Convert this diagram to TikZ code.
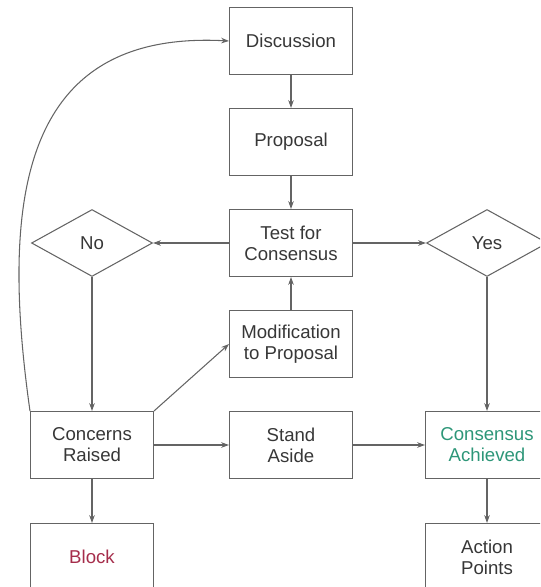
\documentclass[tikz,border=0pt]{standalone}
\usepackage{fontspec}
\setmainfont{Liberation Sans}
\usepackage{tikz}
\usetikzlibrary{shapes.geometric, arrows.meta}
\definecolor{linegray}{RGB}{100,100,100}
\definecolor{textgray}{RGB}{55,55,55}
\definecolor{blockred}{RGB}{165,45,75}
\definecolor{agreegreen}{RGB}{45,150,120}

\begin{document}
\begin{tikzpicture}[x=0.02cm, y=-0.02cm,
    box/.style={draw=linegray, line width=0.6pt, minimum width=2.46cm, minimum height=1.34cm,
        align=center, text=textgray, font=\fontsize{10.6}{12}\selectfont},
    choice/.style={diamond, draw=linegray, line width=0.6pt, minimum width=2.42cm, minimum height=1.34cm,
        inner sep=0pt, text=textgray, font=\fontsize{10.6}{12}\selectfont},
    flow/.style={-{Stealth[length=4.5pt, width=3.2pt]}, draw=linegray, line width=0.6pt}]
    \useasboundingbox (0,0) rectangle (540,587);
    \clip (0,0) rectangle (540,587);

    % Centre column
    \node[box] (disc) at (291, 41) {Discussion};
    \node[box] (prop) at (291, 142) {Proposal};
    \node[box] (test) at (291, 243) {Test for\\Consensus};
    \node[box] (mod) at (291, 344) {Modification\\to Proposal};
    \node[box] (stand) at (291, 445) {Stand\\Aside};

    % Left column
    \node[choice] (no) at (92, 243) {No};
    \node[box] (concern) at (92, 445) {Concerns\\Raised};
    \node[box] (block) at (92, 557) {\textcolor{blockred}{Block}};

    % Right column
    \node[choice] (yes) at (487, 243) {Yes};
    \node[box] (agreed) at (487, 445) {\textcolor{agreegreen}{Consensus}\\\textcolor{agreegreen}{Achieved}};
    \node[box] (action) at (487, 557) {Action\\Points};

    % Arrows
    \draw[flow] (disc) -- (prop);
    \draw[flow] (prop) -- (test);
    \draw[flow] (mod) -- (test);
    \draw[flow] (test) -- (no);
    \draw[flow] (test) -- (yes);
    \draw[flow] (no) -- (concern);
    \draw[flow] (yes) -- (agreed);
    \draw[flow] (concern) -- (block);
    \draw[flow] (concern) -- (stand);
    \draw[flow] (stand) -- (agreed);
    \draw[flow] (agreed) -- (action);
    \draw[flow] (concern.north east) -- (mod.west);
    \draw[flow] (concern.north west) .. controls +(-30,-212) and +(-208,-11) .. (disc.west);
\end{tikzpicture}
\end{document}
